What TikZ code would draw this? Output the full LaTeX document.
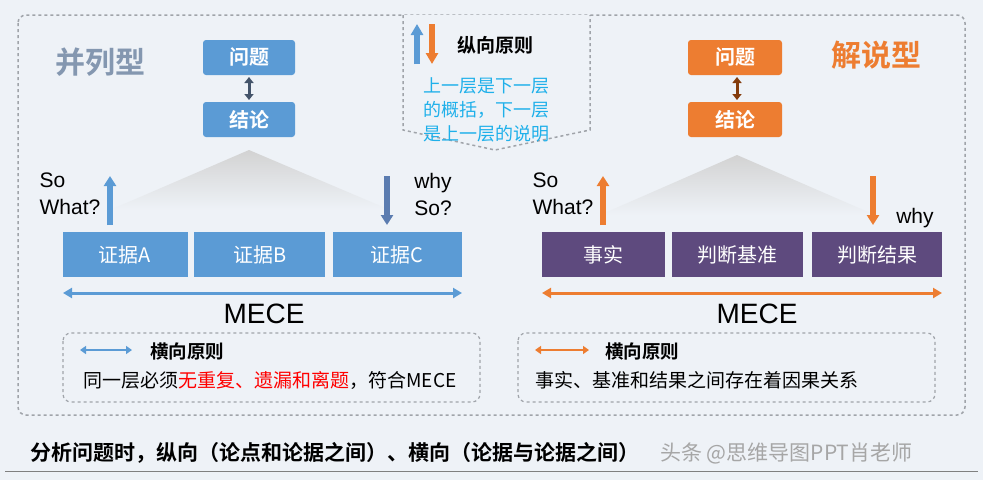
\documentclass[tikz,border=0pt]{standalone}
\usepackage{fontspec}
\setmainfont{Noto Sans CJK SC}
\newfontfamily\cjkb{Noto Sans CJK SC Bold}
\newfontfamily\latin{Liberation Sans}
\usetikzlibrary{arrows.meta}
\definecolor{bg}{HTML}{EEF2F7}
\definecolor{bl}{HTML}{5B9BD5}
\definecolor{org}{HTML}{ED7D31}
\definecolor{pur}{HTML}{5E4A7E}
\definecolor{dk}{HTML}{44546A}
\definecolor{dash}{HTML}{A0A4AA}
\definecolor{cy}{HTML}{1FB0EA}
\definecolor{tit}{HTML}{8497B0}
\begin{document}
\begin{tikzpicture}[x=1pt,y=-1pt,
  box/.style={draw=none,text=white,font=\fontsize{20}{22}\selectfont,inner sep=0pt},
  dbox/.style={draw=dash,dashed,line width=1.2pt,rounded corners=8pt},
  arr/.style={-{Triangle[length=10pt,width=12pt]},line width=6pt},
  darr/.style={{Triangle[length=9pt,width=10pt]}-{Triangle[length=9pt,width=10pt]},line width=3pt},
  txt/.style={font=\fontsize{18}{20}\selectfont,inner sep=0pt}]
\fill[bg] (0,0) rectangle (983,480);
\useasboundingbox (0,0) rectangle (983,480);
\draw[dbox,line width=1.5pt] (18,15) rectangle (965,415);
\draw[draw=dash,dashed,line width=1.5pt,fill=bg] (403,15) -- (403,130) -- (495,150) -- (590,130) -- (590,15);
% left
\node[txt,text=tit,font=\cjkb\fontsize{30}{32}\selectfont] (t1) at (100,62) {并列型};
\fill[bl,rounded corners=3pt] (203,40) rectangle (295,75);
\node[box,font=\cjkb\fontsize{20}{22}\selectfont] (q1) at (249,57) {问题};
\fill[bl,rounded corners=3pt] (203,102) rectangle (295,137);
\node[box,font=\cjkb\fontsize{20}{22}\selectfont] (c1) at (249,120) {结论};
\draw[{Triangle[length=6pt,width=9pt]}-{Triangle[length=6pt,width=9pt]},dk,line width=3pt] (249,77) -- (249,100);
\shade[top color=gray!35,bottom color=bg] (249,150) -- (110,210) -- (390,210) -- cycle;
\draw[arr,bl] (110,225) -- (110,176);
\node[txt,align=left,font=\latin\fontsize{21}{27}\selectfont] (sw1) at (70,194) {So\\What?};
\draw[arr,color={rgb,255:red,91;green,124;blue,176}] (387,176) -- (387,225);
\node[txt,align=left,font=\latin\fontsize{21}{27}\selectfont] (ws1) at (433,194) {why\\So?};
\fill[bl] (63,232) rectangle (188,277); \node[box] (a) at (125,255) {证据A};
\fill[bl] (194,232) rectangle (325,277); \node[box] (b) at (260,255) {证据B};
\fill[bl] (333,232) rectangle (462,277); \node[box] (c) at (397,255) {证据C};
\coordinate (m1l) at (63,293); \coordinate (m1r) at (462,293);
\draw[darr,bl] (m1l) -- (m1r);
\node[txt,font=\latin\fontsize{28}{30}\selectfont] (mece1) at (264,314) {MECE};
\draw[dbox] (63,333) rectangle (480,402);
\coordinate (h1a) at (80,350); \coordinate (h1b) at (132,350);
\draw[{Triangle[length=6pt,width=8pt]}-{Triangle[length=6pt,width=8pt]},bl,line width=2.2pt] (h1a) -- (h1b);
\node[txt,font=\cjkb\fontsize{18.5}{20}\selectfont] (hx1) at (187,351) {横向原则};
\node[txt,font=\fontsize{19}{21}\selectfont] (l1) at (270,380) {同一层必须\textcolor{red}{无重复、遗漏和离题}，符合MECE};
% right
\node[txt,text=org,font=\cjkb\fontsize{30}{32}\selectfont] (t2) at (876,55) {解说型};
\fill[org,rounded corners=3pt] (688,40) rectangle (782,75);
\node[box,font=\cjkb\fontsize{20}{22}\selectfont] (q2) at (735,57) {问题};
\fill[org,rounded corners=3pt] (688,102) rectangle (782,137);
\node[box,font=\cjkb\fontsize{20}{22}\selectfont] (c2) at (735,120) {结论};
\draw[{Triangle[length=6pt,width=9pt]}-{Triangle[length=6pt,width=9pt]},color={rgb,255:red,132;green,60;blue,12},line width=3pt] (737,77) -- (737,100);
\shade[top color=gray!35,bottom color=bg] (737,155) -- (600,215) -- (875,215) -- cycle;
\draw[arr,org] (603,225) -- (603,176);
\node[txt,align=left,font=\latin\fontsize{21}{27}\selectfont] (sw2) at (563,194) {So\\What?};
\draw[arr,org] (873,176) -- (873,225);
\node[txt,font=\latin\fontsize{21}{23}\selectfont] (wy2) at (915,218) {why};
\fill[pur] (542,232) rectangle (665,277); \node[box] (d) at (603,255) {事实};
\fill[pur] (672,232) rectangle (803,277); \node[box] (e) at (737,255) {判断基准};
\fill[pur] (812,232) rectangle (942,277); \node[box] (f) at (877,255) {判断结果};
\coordinate (m2l) at (542,293); \coordinate (m2r) at (942,293);
\draw[darr,org] (m2l) -- (m2r);
\node[txt,font=\latin\fontsize{28}{30}\selectfont] (mece2) at (757,314) {MECE};
\draw[dbox] (518,333) rectangle (935,402);
\coordinate (h2a) at (535,350); \coordinate (h2b) at (589,350);
\draw[{Triangle[length=6pt,width=8pt]}-{Triangle[length=6pt,width=8pt]},org,line width=2.2pt] (h2a) -- (h2b);
\node[txt,font=\cjkb\fontsize{18.5}{20}\selectfont] (hx2) at (642,351) {横向原则};
\node[txt,font=\fontsize{19}{21}\selectfont] (l2) at (697,380) {事实、基准和结果之间存在着因果关系};
% middle
\draw[arr,bl,-{Triangle[length=11pt,width=12pt]}] (417,64) -- (417,24);
\draw[arr,org,-{Triangle[length=11pt,width=12pt]}] (432,24) -- (432,64);
\node[txt,font=\cjkb\fontsize{19}{21}\selectfont] (zx) at (495,45) {纵向原则};
\node[txt,text=cy,align=left,font=\fontsize{18}{24}\selectfont] (zt) at (486,110) {上一层是下一层\\的概括，下一层\\是上一层的说明};
% bottom
\node[txt,anchor=west,font=\cjkb\fontsize{21}{23}\selectfont] (bt) at (30,453) {分析问题时，纵向（论点和论据之间）、横向（论据与论据之间）};
\node[txt,anchor=west,text=gray!70,font=\fontsize{21}{23}\selectfont] (wm) at (660,453) {头条 @思维导图PPT肖老师};
\draw[gray,line width=1pt] (5,471) -- (978,471);
\end{tikzpicture}
\end{document}
